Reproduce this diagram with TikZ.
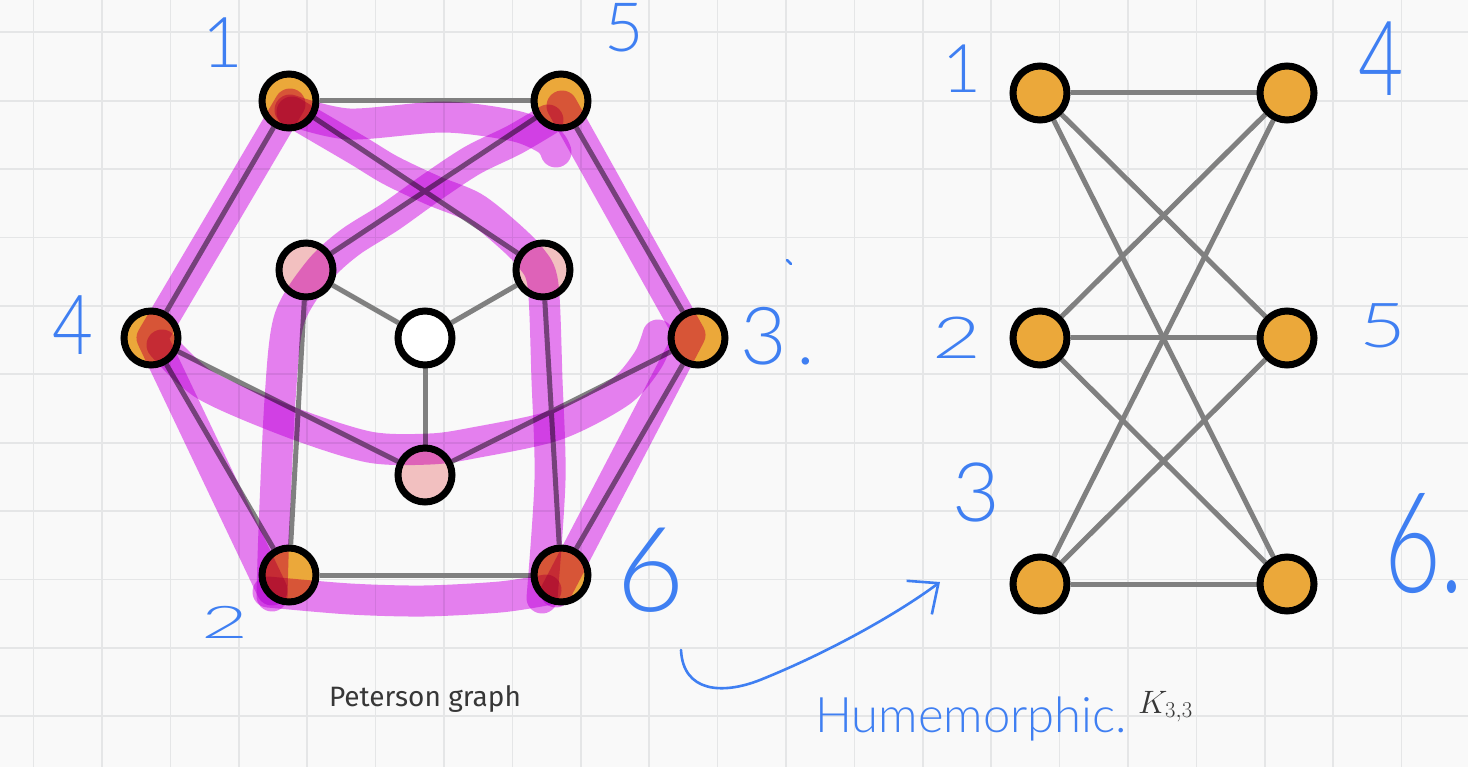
\RequirePackage{fix-cm}
\documentclass[tikz,border=0pt]{standalone}
\usepackage{fontspec}
\usepackage{tikz}
\usetikzlibrary{
  arrows.meta,
  positioning
}
\setmainfont{Fira Sans}
\IfFontExistsTF{Lato Light}{\newfontfamily\handfont{Lato Light}}{\newfontfamily\handfont{Lato}}
\definecolor{PaperWhite}{RGB}{249,249,249}
\definecolor{GridGray}{RGB}{229,230,231}
\definecolor{EdgeGray}{RGB}{128,128,128}
\definecolor{VertexOrange}{RGB}{235,168,58}
\definecolor{VertexPink}{RGB}{242,192,192}
\definecolor{MarkerMagenta}{RGB}{221,48,238}
\definecolor{InkBlue}{RGB}{63,127,242}
\definecolor{CaptionGray}{RGB}{55,55,55}
\pgfdeclarelayer{paper}
\pgfdeclarelayer{wires}
\pgfsetlayers{paper,wires,main}
\tikzset{
  vertex/.style={circle,draw=black,line width=7pt,fill=VertexOrange,minimum size=54pt,inner sep=0pt},
  innervertex/.style={vertex,fill=VertexPink},
  hubvertex/.style={vertex,fill=white},
  link/.style={draw=EdgeGray,line width=5pt},
  gridline/.style={draw=GridGray,line width=1.7pt},
  highlight/.style={draw=MarkerMagenta,line width=31pt,line cap=round,line join=round,opacity=0.6,blend mode=multiply},
  inkline/.style={draw=InkBlue,line width=2.6pt,line cap=round,line join=round},
  handnum/.style={text=InkBlue,inner sep=0pt,font=\handfont\fontsize{#1}{#1}\selectfont},
  captiontext/.style={text=CaptionGray,inner sep=0pt,font=\fontsize{28}{28}\selectfont}
}

\begin{document}
\begin{tikzpicture}[x=1pt,y=-1pt]
\useasboundingbox (0,0) rectangle (1468,767);
\begin{pgfonlayer}{paper}
\fill[PaperWhite] (0,0) rectangle (1468,767);
\foreach \gx in {0,...,20} \draw[gridline] ({33.6+68.4*\gx},0) -- ({33.6+68.4*\gx},767);
\foreach \gy in {0,...,10} \draw[gridline] (0,{32.3+68.4*\gy}) -- (1468,{32.3+68.4*\gy});
\end{pgfonlayer}

\node[vertex] (p1) at (289,101) {};
\node[vertex] (p5) at (561,101) {};
\node[vertex] (p4) at (151,338) {};
\node[vertex] (p3) at (698,338) {};
\node[vertex] (p2) at (289,575) {};
\node[vertex] (p6) at (561,575) {};
\node[innervertex] (qa) at (306,270) {};
\node[innervertex] (qb) at (543,270) {};
\node[hubvertex] (hub) at (425,338) {};
\node[innervertex] (qc) at (425,475) {};

\node[vertex] (k1) at (1040,93) {};
\node[vertex] (k4) at (1287,93) {};
\node[vertex] (k2) at (1040,338) {};
\node[vertex] (k5) at (1287,338) {};
\node[vertex] (k3) at (1040,584) {};
\node[vertex] (k6) at (1287,584) {};

\begin{pgfonlayer}{wires}
\foreach \a/\b in {p1/p5,p5/p3,p3/p6,p6/p2,p2/p4,p4/p1,p1/qb,p5/qa,p4/qc,p3/qc,p2/qa,p6/qb,hub/qa,hub/qb,hub/qc}
  \draw[link] (\a) -- (\b);
\foreach \a in {k1,k2,k3}
  \foreach \b in {k4,k5,k6}
    \draw[link] (\a) -- (\b);
\end{pgfonlayer}

\draw[highlight] (290,104) -- (152,338) -- (272,590);
\draw[highlight] plot[smooth] coordinates {(268,592) (350,599) (424,601) (500,597) (546,590)};
\draw[highlight] plot[smooth] coordinates {(542,598) (550,480) (547,380) (543,285) (531,258) (506,233) (473,207) (432,190) (390,170) (357,150) (292,112)};
\draw[highlight] plot[smooth] coordinates {(272,596) (274,530) (280,400) (289,320) (318,272) (349,243) (390,217) (432,187) (473,160) (514,140) (548,120)};
\draw[highlight] plot[smooth] coordinates {(290,110) (349,124) (444,117) (515,126) (548,140) (556,152)};
\draw[highlight] (562,106) -- (690,335) -- (556,592);
\draw[highlight] plot[smooth] coordinates {(162,345) (205,385) (290,422) (369,447) (430,449) (473,443) (556,425) (620,392) (648,360) (658,335)};

\node[captiontext, anchor=base] (cap) at (425,706) {Peterson graph};

\node[handnum=70] (pl1) at (223,43) {1};
\node[handnum=68] (pl5) at (624,28) {5};
\node[handnum=83] (pl4) at (73,325) {\scalebox{0.85}[1]{4}};
\node[handnum=80] (pl3) at (778,336) {3\kern10pt.};
\node[handnum=45] (pl2) at (225,622) {\scalebox{1.8}[1]{2}};
\node[handnum=118] (pl6) at (651,570) {6};

\node[handnum=67] (kl1) at (962,69) {1};
\node[handnum=104] (kl4) at (1381,59) {\scalebox{0.75}[1]{4}};
\node[handnum=58] (kl2) at (957,338) {\scalebox{1.45}[1]{2}};
\node[handnum=62] (kl5) at (1383,326) {\scalebox{1.3}[1]{5}};
\node[handnum=82] (kl3) at (976,492) {3};
\node[handnum=140] (kl6) at (1424,544) {\scalebox{0.7}[1]{6.}};

\coordinate (hookstart) at (681,650);
\coordinate (hookend) at (940,582);
\draw[inkline,-{Straight Barb[length=24pt,width=42pt]}] (hookstart) .. controls (683,692) and (722,695) .. (760,680) .. controls (830,652) and (900,612) .. (hookend);
\draw[inkline] (787,260) -- (791,264);

\node[handnum=49, anchor=base west] (homeo) at (815,732) {Humemorphic.};
\node[text=CaptionGray, inner sep=0pt, anchor=base west, font=\fontsize{27}{27}\selectfont] (kname) at (1138,713) {\scalebox{1.2}{$K_{3,3}$}};
\end{tikzpicture}
\end{document}
